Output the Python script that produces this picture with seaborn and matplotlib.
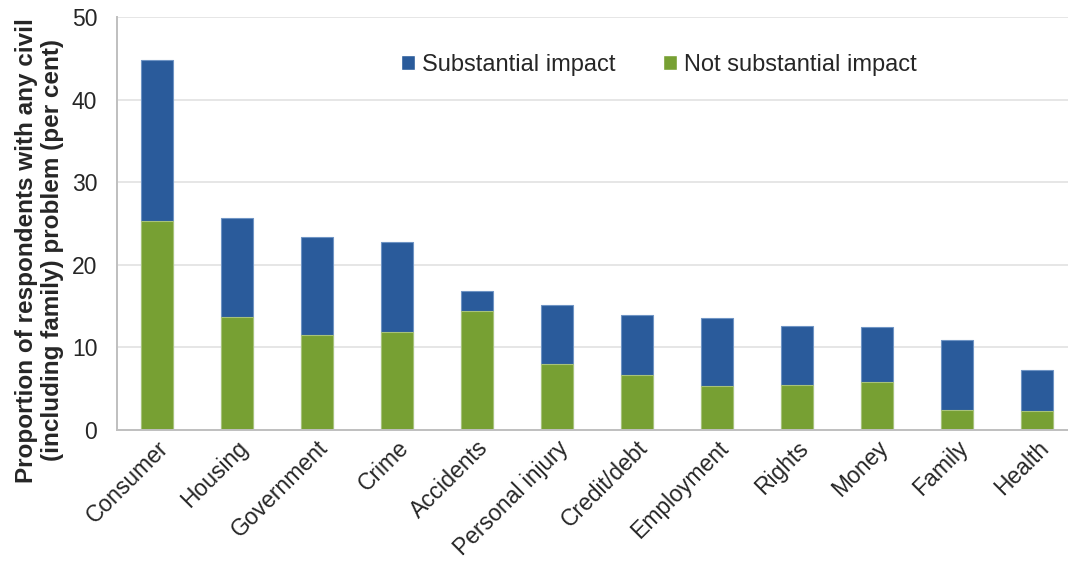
import matplotlib
matplotlib.use("Agg")
import matplotlib.pyplot as plt
from matplotlib.patches import Patch
import seaborn as sns

# Du lieu doc tu hinh goc (per cent)
categories = ["Consumer", "Housing", "Government", "Crime", "Accidents",
              "Personal injury", "Credit/debt", "Employment", "Rights",
              "Money", "Family", "Health"]
not_substantial = [25.3, 13.7, 11.5, 11.8, 14.4, 8.0, 6.6, 5.25, 5.45, 5.8, 2.4, 2.2]
substantial = [19.5, 11.9, 11.8, 10.9, 2.4, 7.1, 7.3, 8.25, 7.15, 6.6, 8.5, 5.0]

BLUE = "#2A5B9B"
GREEN = "#77A033"

sns.set_style("white")
plt.rcParams["font.family"] = ["Liberation Sans", "DejaVu Sans"]

totals = [a + b for a, b in zip(not_substantial, substantial)]

fig = plt.figure(figsize=(10.68, 5.74), dpi=100)
ax = fig.add_axes([0.1093, 0.2517, 0.8989, 0.7182])

# tong (xanh duong) roi phan khong dang ke (xanh la) de len tren
sns.barplot(x=categories, y=totals, color=BLUE, width=0.4, saturation=1,
            edgecolor="#6F94C4", linewidth=0.8, ax=ax)
sns.barplot(x=categories, y=not_substantial, color=GREEN, width=0.4, saturation=1,
            edgecolor="#A7C27A", linewidth=0.8, ax=ax)

ax.set_xlim(-0.5, 11.5)
ax.set_ylim(0, 50)
ax.set_yticks(range(0, 51, 10))
ax.yaxis.grid(True, color="#E6E6E6", linewidth=1.4)
ax.set_axisbelow(True)

for side in ["top", "right"]:
    ax.spines[side].set_visible(False)
for side in ["left", "bottom"]:
    ax.spines[side].set_color("#BFBFBF")
    ax.spines[side].set_linewidth(1.4)

# vach chia giua cac nhom tren truc x
ax.set_xticks([i + 0.5 for i in range(-1, 12)], minor=True)
ax.tick_params(axis="x", which="minor", length=6, width=1.4, color="#BFBFBF", direction="out")
ax.tick_params(axis="x", which="major", length=0, pad=5)
ax.tick_params(axis="y", length=6, width=1.4, color="#BFBFBF", direction="out", pad=8)
ax.set_xticks(range(len(categories)))
ax.set_xticklabels(categories, rotation=45, ha="right", rotation_mode="anchor", fontsize=16.5)
for lbl in ax.get_yticklabels():
    lbl.set_fontsize(16.5)

ax.set_ylabel("Proportion of respondents with any civil\n(including family) problem (per cent)",
              fontsize=17.5, fontweight="bold", linespacing=1.15)
ax.yaxis.set_label_coords(-0.055, 0.435)
ax.set_xlabel("")

handles = [Patch(facecolor=BLUE, label="Substantial impact"),
           Patch(facecolor=GREEN, label="Not substantial impact")]
fig.legend(handles=handles, loc="center", bbox_to_anchor=(0.617, 0.887), ncol=2,
           frameon=False, fontsize=17, handlelength=0.6, handleheight=0.6,
           handletextpad=0.3, columnspacing=2.0)

fig.savefig("out.png", dpi=100)
plt.close(fig)
